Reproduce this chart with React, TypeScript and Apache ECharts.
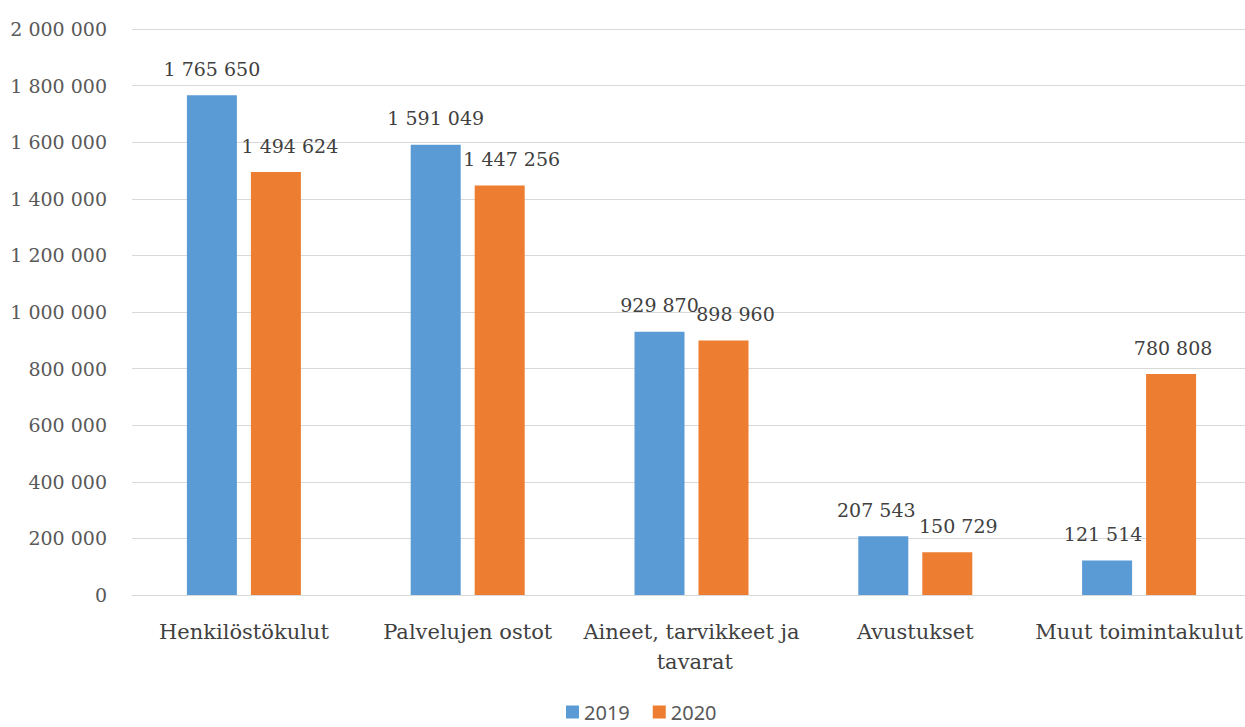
import React, { useEffect, useRef } from "react";
import * as echarts from "echarts";

const categories = [
  "Henkilöstökulut",
  "Palvelujen ostot",
  "Aineet, tarvikkeet ja tavarat",
  "Avustukset",
  "Muut toimintakulut",
];
const values2019 = [1765650, 1591049, 929870, 207543, 121514];
const values2020 = [1494624, 1447256, 898960, 150729, 780808];
const seriesNames = ["2019", "2020"];
const yTicks = { min: 0, max: 2000000, interval: 200000 };

// label horizontal nudges (style only)
const shift2019 = [0, 0, 0, -7, -4];
const shift2020 = [14, 12, 12, 11, 2];

const fmt = (v: number) => String(Math.round(v)).replace(/\B(?=(\d{3})+(?!\d))/g, " ");

const SERIF = "'DejaVu Serif', serif";

export default function App() {
  const ref = useRef<HTMLDivElement>(null);
  useEffect(() => {
    if (!ref.current) return;
    const chart = echarts.init(ref.current, null, { renderer: "svg" });
    const mk = (name: string, vals: number[], shifts: number[], color: string) => ({
      name,
      type: "bar",
      barWidth: 50,
      barGap: "28%",
      itemStyle: { color },
      data: vals.map((v, i) => ({
        value: v,
        label: { offset: [shifts[i], 0] },
      })),
      label: {
        show: true,
        position: "top",
        distance: 17,
        formatter: (p: any) => fmt(p.value),
        color: "#404040",
        fontFamily: SERIF,
        fontSize: 19,
      },
    });
    chart.setOption({
      animation: false,
      backgroundColor: "#ffffff",
      grid: { left: 132, right: 9, top: 29, bottom: 132, containLabel: false },
      legend: {
        top: 700,
        left: 566,
        padding: 0,
        itemWidth: 13,
        itemHeight: 13,
        itemGap: 23,
        icon: "rect",
        textStyle: { fontFamily: "'Noto Sans', sans-serif", fontSize: 20, color: "#595959", lineHeight: 24 },
        data: seriesNames,
      },
      xAxis: {
        type: "category",
        data: categories,
        axisLine: { lineStyle: { color: "#d9d9d9", width: 1 } },
        axisTick: { show: false },
        axisLabel: {
          interval: 0,
          margin: 22,
          color: "#404040",
          fontFamily: SERIF,
          fontSize: 21,
          lineHeight: 30,
          width: 222,
          overflow: "break",
        },
      },
      yAxis: {
        type: "value",
        min: yTicks.min,
        max: yTicks.max,
        interval: yTicks.interval,
        axisLine: { show: false },
        axisTick: { show: false },
        splitLine: { lineStyle: { color: "#d9d9d9", width: 1 } },
        axisLabel: {
          margin: 25,
          color: "#595959",
          fontFamily: SERIF,
          fontSize: 19,
          formatter: (v: number) => fmt(v),
        },
      },
      series: [
        mk(seriesNames[0], values2019, shift2019, "#5B9BD5"),
        mk(seriesNames[1], values2020, shift2020, "#ED7D31"),
      ],
    });
    return () => chart.dispose();
  }, []);
  return (
    <div style={{ position: "fixed", left: 0, top: 0, width: 1245, height: 727, overflow: "hidden", background: "#fff" }}>
      <div ref={ref} style={{ width: 1260, height: 727 }} />
    </div>
  );
}
